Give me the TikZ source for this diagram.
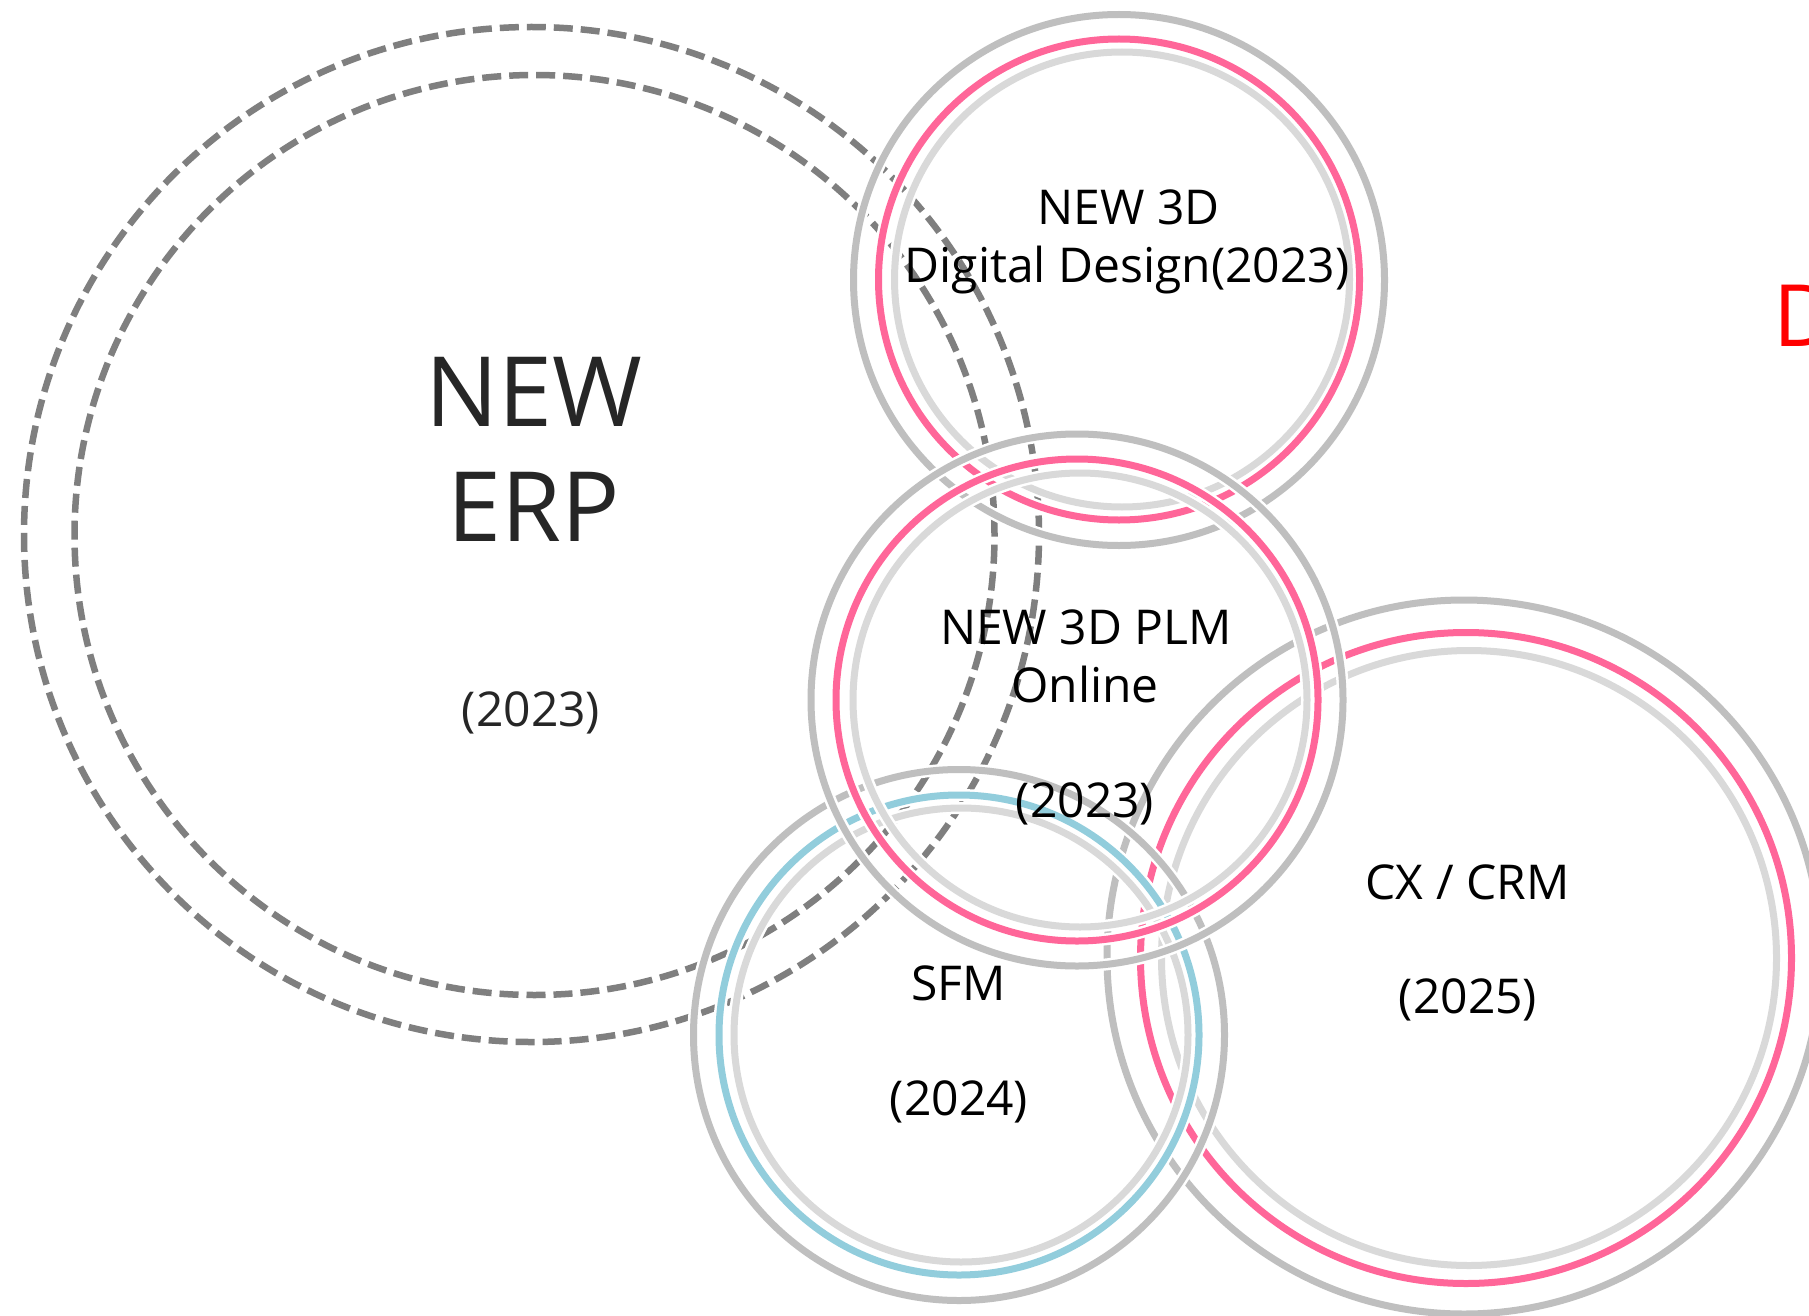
\documentclass[tikz,border=0pt]{standalone}
\usepackage{fontspec}
\setmainfont{Open Sans}
\definecolor{ogray}{HTML}{BFBFBF}
\definecolor{pinkc}{HTML}{FF6699}
\definecolor{lgray}{HTML}{D9D9D9}
\definecolor{bluec}{HTML}{92CDDC}
\definecolor{dashgray}{HTML}{7F7F7F}
\definecolor{erptext}{HTML}{262626}
\begin{document}
\begin{tikzpicture}[x=1pt,y=-1pt,
  ring/.style={line width=7pt, preaction={draw=white, line width=12pt}},
  erpring/.style={draw=dashgray, line width=6.5pt, dash pattern=on 19pt off 8pt},
  lbl/.style={anchor=base, inner sep=0pt, font=\fontsize{48}{57.6}\selectfont, text=black},
  big/.style={anchor=base, inner sep=0pt, font=\fontsize{97}{116}\selectfont, text=erptext}]
\useasboundingbox (0,0) rectangle (1809,1316);
\clip (0,0) rectangle (1809,1316);
\fill[white] (0,0) rectangle (1809,1316);

% ERP dashed rings
\draw[erpring] (531.5,534.5) circle (507.5pt);
\draw[erpring] (534.5,535) circle (460pt);

% Digital Design
\draw[ring, draw=ogray] (1119,280) circle (265.5pt);
\draw[ring, draw=pinkc] (1119,279.5) circle (240.5pt);
\draw[ring, draw=lgray] (1122,279.5) circle (227.5pt);

% CX / CRM
\draw[ring, draw=ogray] (1464,957) circle (357pt);
\draw[ring, draw=pinkc] (1466,958) circle (325.5pt);
\draw[ring, draw=lgray] (1469,958) circle (307.5pt);

% SFM
\draw[ring, draw=ogray] (959,1035) circle (265.5pt);
\draw[ring, draw=bluec] (959,1035) circle (240pt);
\draw[ring, draw=lgray] (961,1035) circle (227pt);

% PLM
\draw[ring, draw=ogray] (1077,700) circle (266pt);
\draw[ring, draw=pinkc] (1077,700) circle (241pt);
\draw[ring, draw=lgray] (1080,700) circle (227pt);

% Labels
\node[big] (erp1) at (534,426.7) {NEW};
\node[big] (erp2) at (534,541.7) {ERP};
\node[lbl, text=erptext] (erp3) at (531,726) {(2023)};

\node[lbl] (dd1) at (1128.6,224) {NEW 3D};
\node[lbl] (dd2) at (1127,282) {Digital Design(2023)};

\node[lbl] (plm1) at (1086,644.3) {NEW 3D PLM};
\node[lbl] (plm2) at (1085,702) {Online};
\node[lbl] (plm3) at (1085,817) {(2023)};

\node[lbl] (sfm1) at (958.6,1000.8) {SFM};
\node[lbl] (sfm2) at (959,1115.5) {(2024)};

\node[lbl] (crm1) at (1467.5,899.2) {CX / CRM};
\node[lbl] (crm2) at (1468,1013.5) {(2025)};

\node[anchor=base west, inner sep=0pt, font=\fontsize{86}{103}\selectfont, text=red] (dlbl) at (1773,346.7) {D};
\end{tikzpicture}
\end{document}
